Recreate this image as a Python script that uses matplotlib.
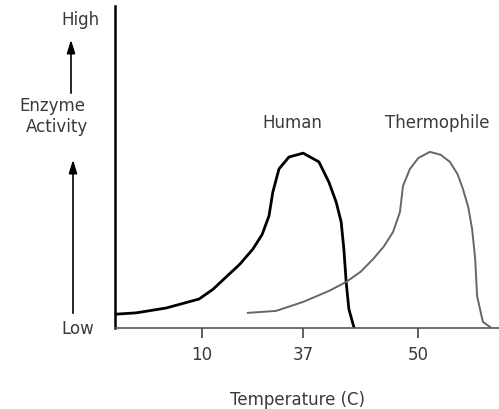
import matplotlib
matplotlib.use("Agg")
import matplotlib.pyplot as plt

# curve samples (x: position along axis 0-100, y: activity 0-100)
human_x = [0.3, 5.5, 13.3, 21.9, 25.5, 28.9, 32.5, 35.9, 38.3, 40.1, 41.1, 42.7,
           45.3, 49.0, 53.1, 55.7, 57.6, 58.9, 59.6, 60.2, 60.9, 62.2]
human_y = [4.3, 4.7, 6.2, 9.0, 12.0, 15.8, 19.8, 24.5, 29.0, 34.8, 42.2, 49.4,
           53.1, 54.3, 51.6, 45.3, 39.1, 32.9, 24.5, 14.3, 5.9, 0.3]
thermo_x = [34.6, 41.9, 49.0, 55.7, 60.2, 64.0, 67.2, 70.0, 72.4, 74.2, 75.0,
            76.8, 79.0, 82.0, 84.8, 87.2, 89.2, 90.6, 92.0, 93.0, 93.8, 94.3,
            95.8, 97.7]
thermo_y = [4.7, 5.3, 8.1, 11.5, 14.3, 17.5, 21.4, 25.3, 29.8, 36.0, 44.1,
            49.4, 52.8, 54.7, 53.8, 51.6, 47.8, 43.2, 37.5, 30.7, 21.4, 9.9,
            1.9, 0.3]

tick_pos = [22.7, 49.0, 79.0]
tick_labels = ["10", "37", "50"]

txt_color = "#3a3a3a"
fs = 12

fig = plt.figure(figsize=(4.99, 4.10), dpi=100)
ax = fig.add_axes([115 / 499, 81 / 410, 384 / 499, 322 / 410])
ax.set_xlim(0, 100)
ax.set_ylim(0, 100)

ax.plot(human_x, human_y, color="black", lw=2.0)
ax.plot(thermo_x, thermo_y, color="#666666", lw=1.4)

for s in ["top", "right"]:
    ax.spines[s].set_visible(False)
ax.spines["left"].set_linewidth(1.8)
ax.spines["bottom"].set_color("#555555")
ax.spines["bottom"].set_linewidth(1.2)
ax.spines["bottom"].set_linestyle((0, (2, 1)))

ax.set_yticks([])
ax.set_xticks(tick_pos)
ax.set_xticklabels(tick_labels, fontsize=fs, color=txt_color)
ax.tick_params(axis="x", length=7, width=1.2, color="#444444", pad=5)

# curve labels
fig.text(292, 287, "Human", transform=None, fontsize=fs, color=txt_color,
         ha="center", va="center")
fig.text(437, 287, "Thermophile", transform=None, fontsize=fs, color=txt_color,
         ha="center", va="center")

# y axis annotation
fig.text(80, 390, "High", transform=None, fontsize=fs, color=txt_color,
         ha="center", va="center")
fig.text(52, 304, "Enzyme", transform=None, fontsize=fs, color=txt_color,
         ha="center", va="center")
fig.text(57, 283, "Activity", transform=None, fontsize=fs, color=txt_color,
         ha="center", va="center")
fig.text(78, 81, "Low", transform=None, fontsize=fs, color=txt_color,
         ha="center", va="center")
fig.text(298, 10, "Temperature (C)", transform=None, fontsize=fs,
         color=txt_color, ha="center", va="center")

arrow = dict(arrowstyle="-|>,head_length=0.8,head_width=0.25", color="black", lw=1.2)
ax.annotate("", xy=(71, 372), xytext=(71, 313), xycoords="figure pixels",
            textcoords="figure pixels", arrowprops=arrow)
ax.annotate("", xy=(73, 252), xytext=(73, 93), xycoords="figure pixels",
            textcoords="figure pixels", arrowprops=arrow)

fig.savefig("out.png", dpi=100)
